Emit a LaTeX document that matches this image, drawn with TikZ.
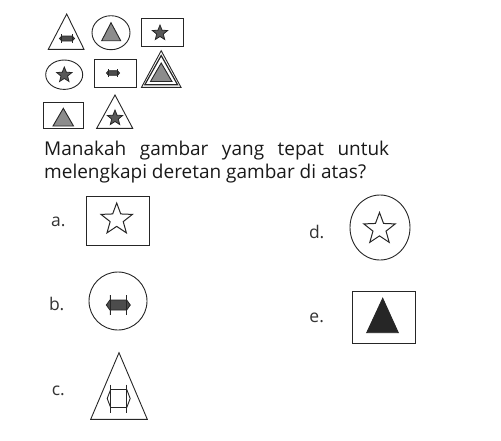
\documentclass[tikz,border=0pt]{standalone}
\usepackage{fontspec}
\setmainfont{Open Sans}
\usetikzlibrary{shapes.geometric}
\tikzset{
  shape line/.style={line width=0.9pt,draw=black!85},
  grey tri/.style={shape line,fill=black!45},
  dark fill/.style={shape line,line width=0.8pt,fill=black!70},
  dark star/.style={star,star points=5,star point ratio=2.3,inner sep=0pt,minimum size=16pt,draw=black!85,fill=black!65,line width=0.8pt},
  open star/.style={star,star points=5,star point ratio=2.4,inner sep=0pt,minimum size=33pt,draw=black!85,fill=white,line width=1pt},
  option label/.style={font=\fontsize{17.5}{20}\selectfont,text=black!80,inner sep=0pt},
  question/.style={anchor=base west,inner sep=0pt,text=black!90,font=\fontsize{19}{23}\selectfont},
}
% arrow mark: [style]{x}{y}{half width}{body half height}{bar half height}
\newcommand{\dblarrow}[6][]{%
  \draw[#1] ({#2-#4},#3) -- ({#2-0.7*#4},{#3-#5}) -- ({#2+0.7*#4},{#3-#5})
    -- ({#2+#4},#3) -- ({#2+0.7*#4},{#3+#5}) -- ({#2-0.7*#4},{#3+#5}) -- cycle;
  \draw[#1] ({#2-0.7*#4},{#3-#6}) -- ({#2-0.7*#4},{#3+#6});
  \draw[#1] ({#2+0.7*#4},{#3-#6}) -- ({#2+0.7*#4},{#3+#6});
}
\begin{document}
\begin{tikzpicture}[x=1pt,y=-1pt]
	\useasboundingbox (0,0) rectangle (501,440);
	%row 1
	\draw[shape line] (66.7,14)--(84,49.3)--(48.3,49.3)--cycle;
	\dblarrow[dark fill]{67}{38.5}{7.5}{2.5}{4.2}
	\draw[shape line] (111,32.7) ellipse [x radius=19,y radius=17];
	\draw[grey tri] (111,22.7)--(120.7,40.7)--(101.7,40.7)--cycle;
	\draw[shape line] (141,18.3) rectangle (183.3,46.7);
	\node[dark star] (s1) at (160,33) {};
	%row 2
	\draw[shape line] (64.2,74.7) ellipse [x radius=18.5,y radius=14.7];
	\node[dark star] (s2) at (64.3,75) {};
	\draw[shape line] (94.3,59.3) rectangle (136,87.3);
	\dblarrow[dark fill]{113}{73}{6.5}{2.3}{4}
	\draw[shape line] (161.2,50.7)--(181,87.3)--(141.5,87.3)--cycle;
	\draw[shape line,line width=1.2pt] (161.2,55.5)--(177.6,84.8)--(144.8,84.8)--cycle;
	\draw[grey tri] (161.2,63)--(172,81.5)--(150.5,81.5)--cycle;
	%row 3
	\draw[shape line] (43.3,102.7) rectangle (83.3,128.3);
	\draw[grey tri] (63.3,108.3)--(73.5,126)--(53,126)--cycle;
	\draw[shape line] (115,95)--(132.7,128.3)--(96.7,128.3)--cycle;
	\node[dark star] (s3) at (115,118) {};
	%question
	\node[question] (q1) at (44,155.5)
		{\makebox[345pt][s]{Manakah gambar yang tepat untuk}};
	\node[question] (q2) at (44,178.5)
		{melengkapi deretan gambar di atas?};
	%options
	\node[option label] (la) at (58.3,221.7) {a.};
	\draw[shape line] (86.7,196) rectangle (149,245);
	\node[open star] (sa) at (116.7,219.5) {};
	\node[option label] (lb) at (56.7,304) {b.};
	\draw[shape line] (118,301) circle [radius=29];
	\dblarrow[dark fill]{118.3}{305}{12}{5}{10}
	\node[option label] (lc) at (58.3,391) {c.};
	\draw[shape line] (119,352.7)--(147.3,419.3)--(90.7,419.3)--cycle;
	\dblarrow[shape line]{118.7}{398.5}{11.5}{9}{14}
	\node[option label] (ld) at (316.7,232) {d.};
	\draw[shape line] (380,227.5) ellipse [x radius=30,y radius=32.5];
	\node[open star] (sd) at (379.5,229) {};
	\node[option label] (le) at (316.7,318) {e.};
	\draw[shape line] (352.3,291) rectangle (415.7,343.3);
	\draw[shape line,fill=black!85] (382.7,298.3)--(398.3,332.7)--(366.7,332.7)--cycle;
\end{tikzpicture}
\end{document}
